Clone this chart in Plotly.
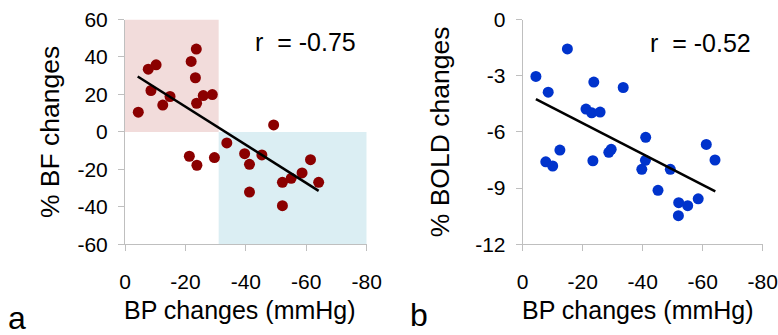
import plotly.graph_objects as go

# ---------------- data ----------------
bp_a = [-4.4, -7.7, -10.3, -8.6, -12.5, -14.9, -23.6, -21.9, -23.3, -23.7, -25.9, -28.9, -49.2,
        -21.3, -23.8, -29.6, -33.7, -39.6, -41.2, -41.2, -45.3, -52.1, -52.1, -55.0, -58.6, -61.4, -64.1]
bf_a = [10.5, 33.5, 35.8, 22.1, 14.3, 18.9, 44.2, 37.6, 28.9, 15.3, 19.4, 19.9, 3.7,
        -13.0, -17.8, -13.7, -5.9, -11.6, -17.3, -32.1, -12.3, -26.9, -39.4, -24.8, -21.9, -14.8, -26.9]
fit_a_x = [-4.2, -64.1]
fit_a_y = [29.6, -31.5]

bp_b = [-14.9, -4.4, -8.5, -23.7, -33.5, -21.1, -23.0, -25.8, -41.0, -12.4, -7.7, -10.0, -23.4,
        -28.7, -29.5, -39.7, -40.9, -49.2, -45.1, -52.0, -51.9, -55.0, -58.5, -61.2, -64.1]
bold_b = [-1.57, -3.04, -3.88, -3.34, -3.63, -4.78, -4.98, -4.94, -6.29, -6.97, -7.60, -7.82, -7.54,
          -7.09, -6.93, -8.00, -7.52, -8.00, -9.12, -9.78, -10.47, -9.94, -9.57, -6.67, -7.50]
fit_b_x = [-4.4, -64.2]
fit_b_y = [-4.25, -9.17]

x_ticks = [0, -20, -40, -60, -80]
x_ticktext = ["0", "-20", "-40", "-60", "-80"]
ya_ticks = [60, 40, 20, 0, -20, -40, -60]
ya_ticktext = ["60", "40", "20", "0", "-20", "-40", "-60"]
yb_ticks = [0, -3, -6, -9, -12]
yb_ticktext = ["0", "-3", "-6", "-9", "-12"]

# quadrant shading (data coords)
pink_x = [0, -31]
pink_y = [0, 60]
blue_x = [-31, -80]
blue_y = [-60, 0]

x_title = "BP changes (mmHg)"
ya_title = "% BF changes"
yb_title = "% BOLD changes"
r_a = "r\u00a0 = -0.75"
r_b = "r\u00a0 = -0.52"

FONT = "Liberation Sans, Arial, sans-serif"
W, H = 778, 335

fig = go.Figure()
fig.add_trace(go.Scatter(x=bp_a, y=bf_a, mode="markers", xaxis="x", yaxis="y",
                         marker=dict(color="#8b0000", size=11), showlegend=False))
fig.add_trace(go.Scatter(x=fit_a_x, y=fit_a_y, mode="lines", xaxis="x", yaxis="y",
                         line=dict(color="black", width=2.5), showlegend=False))
fig.add_trace(go.Scatter(x=bp_b, y=bold_b, mode="markers", xaxis="x2", yaxis="y2",
                         marker=dict(color="#0033cc", size=11), showlegend=False))
fig.add_trace(go.Scatter(x=fit_b_x, y=fit_b_y, mode="lines", xaxis="x2", yaxis="y2",
                         line=dict(color="black", width=2.5), showlegend=False))

fig.add_shape(type="rect", xref="x", yref="y", x0=pink_x[0], x1=pink_x[1], y0=pink_y[0], y1=pink_y[1],
              fillcolor="#f2dcdb", line=dict(width=0), layer="below")
fig.add_shape(type="rect", xref="x", yref="y", x0=blue_x[0], x1=blue_x[1], y0=blue_y[0], y1=blue_y[1],
              fillcolor="#dbeef3", line=dict(width=0), layer="below")

ydom = [90.7 / H, 315.5 / H]
axis_common = dict(showgrid=False, zeroline=False, showline=True, linecolor="#bfbfbf", linewidth=1,
                   ticks="outside", tickcolor="#bfbfbf", ticklen=6, tickwidth=1,
                   tickfont=dict(family=FONT, size=21, color="black"), automargin=False)

fig.update_layout(
    width=W, height=H, margin=dict(l=0, r=0, t=0, b=0),
    paper_bgcolor="white", plot_bgcolor="white",
    xaxis=dict(domain=[125 / W, 366.7 / W], range=[0, -80], tickvals=x_ticks, ticktext=x_ticktext,
               anchor="y", ticklabelstandoff=12, **axis_common),
    yaxis=dict(domain=ydom, range=[-60, 60], tickvals=ya_ticks, ticktext=ya_ticktext, anchor="x",
               ticklabelstandoff=6,
               title=dict(text=ya_title, font=dict(family=FONT, size=26.5, color="black"), standoff=10),
               **axis_common),
    xaxis2=dict(domain=[522.7 / W, 762.7 / W], range=[0, -80], tickvals=x_ticks, ticktext=x_ticktext,
                anchor="y2", ticklabelstandoff=12, **axis_common),
    yaxis2=dict(domain=ydom, range=[-12, 0], tickvals=yb_ticks, ticktext=yb_ticktext, anchor="x2",
                ticklabelstandoff=6,
                title=dict(text=yb_title, font=dict(family=FONT, size=26.5, color="black"), standoff=17),
                **axis_common),
)

fig.add_annotation(text=x_title, xref="paper", yref="paper", x=240 / W, y=1 - 310 / H, xanchor="center",
                   yanchor="middle", showarrow=False, font=dict(family=FONT, size=25, color="black"))
fig.add_annotation(text=x_title, xref="paper", yref="paper", x=638 / W, y=1 - 310 / H, xanchor="center",
                   yanchor="middle", showarrow=False, font=dict(family=FONT, size=25, color="black"))
fig.add_annotation(text=r_a, xref="paper", yref="paper", x=253 / W, y=1 - 42 / H, xanchor="left",
                   yanchor="middle", showarrow=False, font=dict(family=FONT, size=25, color="black"))
fig.add_annotation(text=r_b, xref="paper", yref="paper", x=648 / W, y=1 - 43 / H, xanchor="left",
                   yanchor="middle", showarrow=False, font=dict(family=FONT, size=25, color="black"))
fig.add_annotation(text="a", xref="paper", yref="paper", x=6 / W, y=1 - 318 / H, xanchor="left",
                   yanchor="middle", showarrow=False, font=dict(family=FONT, size=32, color="black"))
fig.add_annotation(text="b", xref="paper", yref="paper", x=408 / W, y=1 - 315 / H, xanchor="left",
                   yanchor="middle", showarrow=False, font=dict(family=FONT, size=32, color="black"))

fig.write_html("out.html", config={"displayModeBar": False},
               post_script="document.body.style.margin='0px';")
